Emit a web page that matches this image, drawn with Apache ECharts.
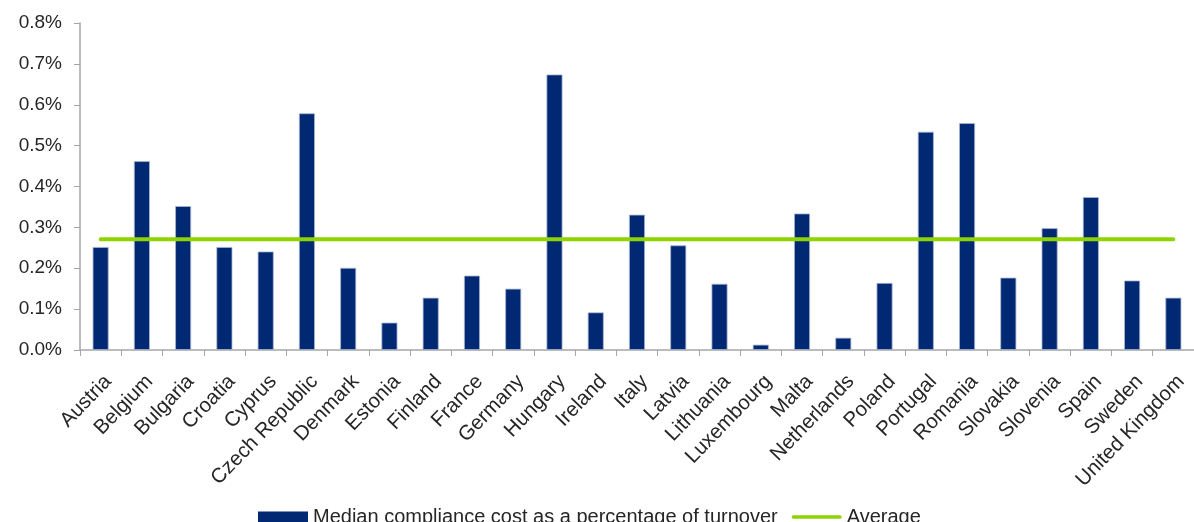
<!DOCTYPE html>
<html>
<head>
<meta charset="utf-8">
<script src="https://cdn.jsdelivr.net/npm/echarts@6/dist/echarts.min.js"></script>
<style>
html,body{margin:0;padding:0;background:#fff;}
#chart{width:1194px;height:522px;}
</style>
</head>
<body>
<div id="chart"></div>
<script>
const categories = ["Austria","Belgium","Bulgaria","Croatia","Cyprus","Czech Republic","Denmark","Estonia","Finland","France","Germany","Hungary","Ireland","Italy","Latvia","Lithuania","Luxembourg","Malta","Netherlands","Poland","Portugal","Romania","Slovakia","Slovenia","Spain","Sweden","United Kingdom"];
const medianCost = [0.252,0.462,0.352,0.252,0.241,0.579,0.201,0.067,0.128,0.182,0.150,0.674,0.092,0.331,0.256,0.162,0.013,0.334,0.030,0.164,0.534,0.555,0.177,0.298,0.374,0.170,0.128];
const averageValue = 0.271;
const averageLine = categories.map(() => averageValue);
const yTicks = { min: 0, max: 0.8, interval: 0.1 };

const chart = echarts.init(document.getElementById('chart'));
const txt = '#262626';
const font = '"Liberation Sans", Arial, sans-serif';
chart.setOption({
  animation: false,
  textStyle: { fontFamily: font },
  grid: { left: 80, right: -3, top: 23, bottom: 172 },
  legend: {
    left: 253, top: 502,
    itemGap: 14,
    itemWidth: 50, itemHeight: 11,
    textStyle: { fontSize: 20, color: txt, fontFamily: font },
    data: [
      { name: 'Median compliance cost as a percentage of turnover', icon: 'rect',
        itemStyle: { borderWidth: 0 } },
      { name: 'Average', icon: 'path://M2,0H52A2,2,0,0,1,52,4H2A2,2,0,0,1,2,0Z' }
    ]
  },
  xAxis: {
    type: 'category',
    data: categories,
    axisLine: { lineStyle: { color: '#a6a6a6', width: 1.5 } },
    axisTick: { show: true, length: 6, lineStyle: { color: '#a6a6a6' } },
    axisLabel: { rotate: 46, interval: 0, fontSize: 20.5, color: txt, margin: 21,
      verticalAlign: 'top', fontFamily: font }
  },
  yAxis: {
    type: 'value',
    min: yTicks.min, max: yTicks.max, interval: yTicks.interval,
    axisLine: { show: true, lineStyle: { color: '#a6a6a6', width: 1.5 } },
    axisTick: { show: true, length: 6, lineStyle: { color: '#a6a6a6' } },
    splitLine: { show: false },
    axisLabel: { fontSize: 19, color: txt, margin: 18, fontFamily: font,
      formatter: v => v.toFixed(1) + '%' }
  },
  series: [
    {
      name: 'Median compliance cost as a percentage of turnover',
      type: 'bar',
      data: medianCost,
      barWidth: 16,
      itemStyle: { color: '#002873', borderColor: '#a9b6d2', borderWidth: 0.8 },
      z: 2
    },
    {
      name: 'Average',
      type: 'line',
      data: averageLine,
      symbol: 'none',
      lineStyle: { color: '#8fd400', width: 4, cap: 'round' },
      itemStyle: { color: '#8fd400' },
      z: 3
    }
  ]
});
</script>
</body>
</html>
